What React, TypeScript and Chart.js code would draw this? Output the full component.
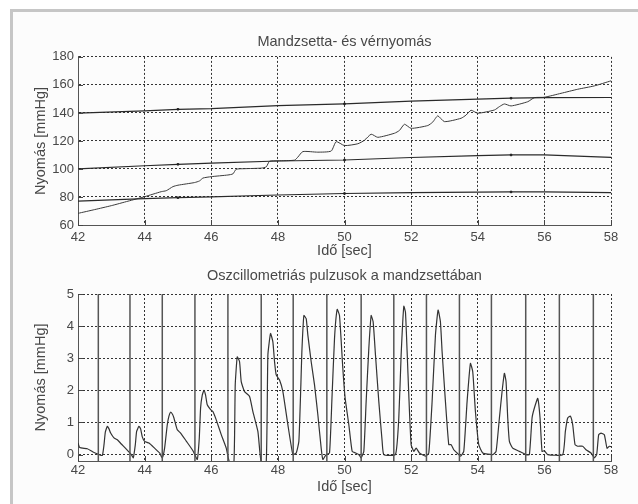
import React, { useEffect, useRef } from "react";
import { Chart, registerables } from "chart.js";
Chart.register(...registerables);

const FONT = "'Liberation Sans', Arial, sans-serif";
const TXT = "#484848";
const GRID = "#333";

// ---------- Upper chart data ----------
const upperTitle = "Mandzsetta- és vérnyomás";
const lowerTitle = "Oszcillometriás pulzusok a mandzsettában";
const xTitle = "Idő [sec]";
const yTitle = "Nyomás [mmHg]";

const bpTimes = [42, 44, 45, 46, 48, 50, 52, 54, 55, 56, 58];
const systolic = [139.8, 141.4, 142.6, 143.1, 145.2, 146.5, 148.4, 149.8, 150.5, 150.9, 151];
const meanBP = [100, 102.3, 103.3, 104.1, 105.7, 106.4, 108.2, 109.5, 110, 110, 108.3];
const diastolic = [77.1, 78.8, 79.5, 80.1, 81.4, 82.5, 83.1, 83.4, 83.6, 83.6, 83.1];
const markerTimes = [45, 50, 55];

const cuffTimes = [42, 42.5, 43, 43.5, 44, 44.5, 44.65, 44.85, 45, 45.5, 45.65, 45.75, 46, 46.5, 46.65, 46.75, 47, 47.5, 47.65, 47.75, 48, 48.5, 48.6, 48.75, 49.2, 49.6, 49.75, 50, 50.4, 50.6, 50.8, 51, 51.5, 51.65, 51.8, 52, 52.5, 52.65, 52.8, 53, 53.5, 53.65, 53.8, 54, 54.5, 54.65, 54.8, 55, 55.5, 55.7, 56, 56.5, 57, 57.5, 58];
const cuffValues = [68.3, 71, 73.8, 77, 80.2, 83.8, 84.5, 87.4, 88.4, 90.3, 91.5, 93.5, 94.5, 95.7, 96.5, 99.8, 100.2, 100.6, 101.5, 105.5, 105.8, 106.3, 108.5, 112.4, 112, 112.8, 119.5, 116.7, 118, 120.5, 124.8, 122.6, 125.5, 127.5, 131.9, 129, 131, 133.5, 137.9, 133.8, 136.2, 138.5, 141.9, 139.8, 142.1, 144.5, 146.4, 145, 148, 150.9, 151.2, 154, 156.9, 159.3, 162.9];

// ---------- Lower chart data ----------
const beatTimes = [42.61, 43.56, 44.53, 45.51, 46.5, 47.5, 48.46, 49.47, 50.5, 51.48, 52.46, 53.45, 54.41, 55.44, 56.45, 57.47];

const pulseTimes = [42.0, 42.05, 42.28, 42.45, 42.63, 42.73, 42.78, 42.82, 42.88, 42.93, 42.98, 43.08, 43.18, 43.3, 43.45, 43.6, 43.66, 43.72, 43.76, 43.83, 43.88, 43.93, 44.0, 44.13, 44.3, 44.45, 44.53, 44.6, 44.68, 44.73, 44.78, 44.84, 44.88, 44.98, 45.08, 45.25, 45.45, 45.58, 45.64, 45.68, 45.73, 45.78, 45.83, 45.88, 45.98, 46.05, 46.15, 46.3, 46.45, 46.55, 46.68, 46.72, 46.78, 46.85, 46.9, 47.0, 47.15, 47.25, 47.4, 47.5, 47.65, 47.7, 47.78, 47.85, 47.9, 47.95, 48.05, 48.15, 48.3, 48.45, 48.55, 48.63, 48.69, 48.72, 48.78, 48.85, 48.9, 49.0, 49.1, 49.2, 49.3, 49.35, 49.45, 49.55, 49.62, 49.7, 49.78, 49.85, 49.95, 50.02, 50.13, 50.23, 50.33, 50.43, 50.5, 50.58, 50.65, 50.73, 50.8, 50.86, 50.93, 51.03, 51.13, 51.18, 51.53, 51.63, 51.7, 51.78, 51.83, 51.88, 51.93, 52.0, 52.08, 52.15, 52.25, 52.43, 52.53, 52.63, 52.73, 52.81, 52.88, 52.93, 53.03, 53.13, 53.2, 53.28, 53.38, 53.48, 53.58, 53.68, 53.78, 53.85, 53.93, 54.03, 54.15, 54.45, 54.55, 54.65, 54.73, 54.8, 54.85, 54.9, 54.95, 55.05, 55.25, 55.45, 55.55, 55.63, 55.7, 55.8, 55.87, 55.93, 56.0, 56.1, 56.55, 56.63, 56.7, 56.78, 56.85, 56.92, 57.0, 57.15, 57.25, 57.4, 57.5, 57.57, 57.63, 57.7, 57.8, 57.88, 57.95, 58.0];
const pulseValues = [0.36, 0.22, 0.18, 0.08, 0.0, -0.03, 0.3, 0.7, 0.88, 0.8, 0.67, 0.52, 0.46, 0.33, 0.17, 0.0, -0.1, 0.3, 0.72, 0.88, 0.8, 0.55, 0.41, 0.36, 0.2, 0.05, -0.1, 0.2, 0.93, 1.2, 1.32, 1.25, 1.14, 0.77, 0.67, 0.42, 0.12, -0.15, 0.5, 1.45, 1.85, 2.0, 1.85, 1.55, 1.4, 1.34, 1.08, 0.62, 0.2, -0.25, -0.25, 2.17, 3.04, 2.89, 2.27, 1.96, 1.81, 1.34, 0.72, -0.25, -0.25, 3.1, 3.77, 3.51, 2.89, 2.48, 2.32, 1.96, 0.93, 0.0, 0.05, 0.41, 2.17, 3.2, 4.33, 4.23, 3.72, 2.89, 2.17, 1.24, 0.2, -0.15, 0.0, 0.05, 1.65, 3.61, 4.52, 4.33, 2.68, 1.75, 0.93, 0.1, 0.05, 0.0, -0.1, 0.1, 1.65, 3.3, 4.33, 4.13, 3.1, 1.65, 0.41, 0.0, 0.0, 1.14, 3.1, 4.62, 4.43, 3.2, 1.86, 0.31, 0.1, 0.2, 0.05, -0.05, 0.05, 1.65, 3.72, 4.5, 4.13, 3.2, 1.65, 0.31, 0.31, 0.15, 0.05, -0.05, 0.1, 1.65, 2.84, 2.58, 1.34, 0.31, 0.05, 0.0, 0.1, 1.14, 1.96, 2.53, 2.27, 1.14, 0.41, 0.2, 0.1, 0.0, 0.0, 1.14, 1.45, 1.75, 1.14, 0.1, 0.12, 0.0, 0.0, 0.72, 1.14, 1.2, 0.93, 0.31, 0.26, 0.26, 0.15, 0.05, -0.1, 0.0, 0.62, 0.67, 0.62, 0.2, 0.26, 0.25];

const xMin = 42, xMax = 58, xStep = 2;
const upperYMin = 60, upperYMax = 180, upperYStep = 20;
const lowerYMin = -0.2, lowerYMax = 5, lowerYStep = 1;

const zip = (xs: number[], ys: number[]) => xs.map((x, i) => ({ x, y: ys[i] }));

const innerTicks = {
  id: "innerTicks",
  afterDatasetsDraw(chart: any) {
    const { ctx, chartArea, scales } = chart;
    ctx.save();
    ctx.strokeStyle = "#444";
    ctx.lineWidth = 1;
    ctx.setLineDash([]);
    scales.x.ticks.forEach((t: any) => {
      const px = Math.round(scales.x.getPixelForValue(t.value)) + 0.5;
      ctx.beginPath();
      ctx.moveTo(px, chartArea.bottom);
      ctx.lineTo(px, chartArea.bottom - 5);
      ctx.stroke();
    });
    scales.y.ticks.forEach((t: any) => {
      const py = Math.round(scales.y.getPixelForValue(t.value)) + 0.5;
      ctx.beginPath();
      ctx.moveTo(chartArea.left, py);
      ctx.lineTo(chartArea.left + 5, py);
      ctx.stroke();
    });
    ctx.restore();
  },
};

function axisX(titlePadBottom: number, tickPad: number, height: number) {
  return {
    type: "linear" as const,
    min: xMin,
    max: xMax,
    ticks: { stepSize: xStep, font: { family: FONT, size: 13 }, color: TXT, padding: tickPad, maxRotation: 0 },
    grid: { color: GRID, lineWidth: 1, drawTicks: false },
    border: { display: true, color: "#555", width: 1, dash: [2, 2] },
    title: { display: true, text: xTitle, font: { family: FONT, size: 14.5 }, color: TXT, padding: { top: 0, bottom: titlePadBottom } },
    afterFit(scale: any) { scale.height = height; },
  };
}

function axisY(min: number, max: number, step: number, includeBounds: boolean) {
  return {
    type: "linear" as const,
    min, max,
    ticks: { stepSize: step, includeBounds, font: { family: FONT, size: 13 }, color: TXT, padding: 4 },
    grid: { color: GRID, lineWidth: 1, drawTicks: false },
    border: { display: true, color: "#555", width: 1, dash: [2, 2] },
    title: { display: true, text: yTitle, font: { family: FONT, size: 14.5 }, color: TXT, padding: { top: 32, bottom: 0 } },
    afterFit(scale: any) { scale.width = 78; },
  };
}

function ChartCanvas({ config, top, height }: { config: any; top: number; height: number }) {
  const ref = useRef<HTMLCanvasElement>(null);
  useEffect(() => {
    const chart = new Chart(ref.current as HTMLCanvasElement, config);
    return () => chart.destroy();
  }, []);
  return <canvas ref={ref} width={638} height={height} style={{ position: "absolute", left: 0, top, width: 638, height }} />;
}

const bpStyle = (data: { x: number; y: number }[]) => ({
  data,
  borderColor: "#2a2a2a",
  backgroundColor: "#222",
  pointBorderColor: "#222",
  borderWidth: 1.2,
  pointStyle: "rect",
  pointBorderWidth: 1,
  pointRadius: (c: any) => (c.raw && markerTimes.includes(c.raw.x) ? 1.1 : 0),
  tension: 0,
});

const upperConfig = {
  type: "line",
  data: {
    datasets: [
      bpStyle(zip(bpTimes, systolic)),
      bpStyle(zip(bpTimes, meanBP)),
      bpStyle(zip(bpTimes, diastolic)),
      { data: zip(cuffTimes, cuffValues), borderColor: "#3a3a3a", borderWidth: 1, pointRadius: 0, tension: 0.2 },
    ],
  },
  options: {
    responsive: false,
    animation: false,
    devicePixelRatio: 1,
    layout: { padding: { left: 0, right: 27, top: 0, bottom: 0 } },
    plugins: {
      legend: { display: false },
      tooltip: { enabled: false },
      title: { display: true, text: upperTitle, fullSize: false, font: { family: FONT, size: 14.5, weight: "normal" }, color: TXT, padding: { top: 33.5, bottom: 6 } },
    },
    scales: {
      x: axisX(2.3, 4.5, 37),
      y: axisY(upperYMin, upperYMax, upperYStep, true),
    },
  },
  plugins: [innerTicks],
};

const beatData = beatTimes.flatMap((t) => [
  { x: t, y: lowerYMin },
  { x: t, y: lowerYMax },
  { x: t, y: null },
]);

const lowerConfig = {
  type: "line",
  data: {
    datasets: [
      { data: beatData, borderColor: "#555", borderWidth: 1.5, pointRadius: 0, spanGaps: false },
      { data: zip(pulseTimes, pulseValues), borderColor: "#333", borderWidth: 1.2, pointRadius: 0, tension: 0.15 },
    ],
  },
  options: {
    responsive: false,
    animation: false,
    devicePixelRatio: 1,
    layout: { padding: { left: 0, right: 27, top: 0, bottom: 0 } },
    plugins: {
      legend: { display: false },
      tooltip: { enabled: false },
      title: { display: true, text: lowerTitle, fullSize: false, font: { family: FONT, size: 14.5, weight: "normal" }, color: TXT, padding: { top: 5.3, bottom: 9.3 } },
    },
    scales: {
      x: axisX(8.3, 1.5, 43),
      y: axisY(lowerYMin, lowerYMax, lowerYStep, false),
    },
  },
  plugins: [innerTicks],
};

export default function App() {
  return (
    <div style={{ position: "fixed", left: 0, top: 0, width: 638, height: 504, background: "#fff", overflow: "hidden" }}>
      <div
        style={{
          position: "absolute",
          left: 10,
          top: 9,
          width: 660,
          height: 520,
          borderLeft: "3px solid #c6c6c6",
          borderTop: "3px solid #c6c6c6",
          background: "#fcfcfc",
        }}
      />
      <ChartCanvas config={upperConfig} top={0} height={262} />
      <ChartCanvas config={lowerConfig} top={262} height={242} />
    </div>
  );
}
